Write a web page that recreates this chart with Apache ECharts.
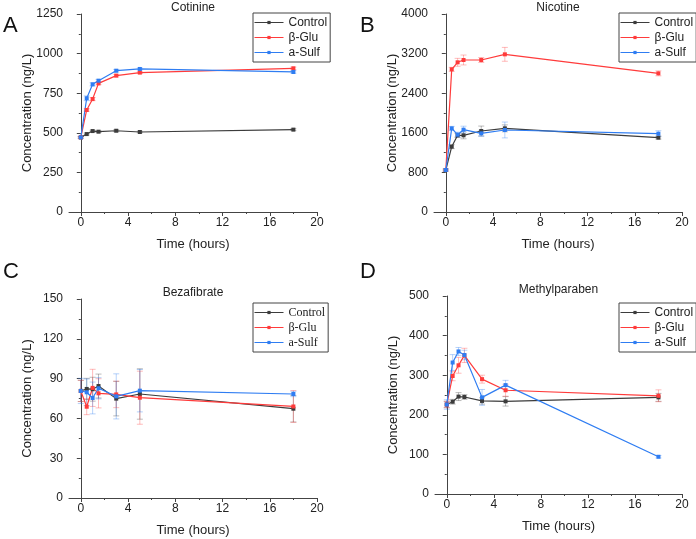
<!DOCTYPE html>
<html>
<head>
<meta charset="utf-8">
<script src="https://cdn.jsdelivr.net/npm/echarts@6/dist/echarts.min.js"></script>
<style>
  html, body { margin: 0; padding: 0; background: #fff; }
  #main { width: 696px; height: 539px; }
</style>
</head>
<body>
<div id="main"></div>
<script>
// time points (hours)
var times = [0, 0.5, 1, 1.5, 3, 5, 18];
var groups = ['Control', 'β-Glu', 'a-Sulf'];
var xTicks = [0, 4, 8, 12, 16, 20];
var xMinorTicks = [2, 6, 10, 14, 18];

// Cotinine
var cotControl = [471, 492, 511, 507, 513, 505, 520];
var cotGlu = [471, 644, 713, 812, 861, 880, 907];
var cotSulf = [471, 718, 806, 829, 892, 903, 884];
var cotControlErr = [5, 6, 5, 5, 6, 5, 6];
var cotGluErr = [5, 8, 10, 8, 8, 6, 8];
var cotSulfErr = [5, 15, 10, 8, 8, 6, 8];

// Nicotine
var nicControl = [848, 1320, 1549, 1549, 1636, 1690, 1502];
var nicGlu = [848, 2882, 3024, 3071, 3071, 3185, 2801];
var nicSulf = [848, 1690, 1562, 1663, 1589, 1657, 1582];
var nicControlErr = [20, 40, 40, 70, 100, 70, 30];
var nicGluErr = [20, 40, 80, 100, 50, 140, 50];
var nicSulfErr = [20, 40, 50, 70, 60, 160, 60];

// Bezafibrate
var bezControl = [80.7, 82.2, 82.0, 84.4, 74.9, 78.4, 67.3];
var bezGlu = [80.7, 68.8, 83.0, 78.9, 78.1, 75.6, 69.0];
var bezSulf = [80.7, 79.7, 75.4, 82.7, 76.6, 80.9, 78.4];
var bezControlErr = [8, 8, 9, 9, 13, 19, 10];
var bezGluErr = [8, 6, 14, 11, 10, 20, 12];
var bezSulfErr = [9.5, 10, 12, 8, 17, 16, 2];

// Methylparaben
var metControl = [226, 233, 246, 245, 235, 234, 244];
var metGlu = [226, 298, 325, 350, 290, 262, 248];
var metSulf = [226, 332, 360, 351, 244, 275, 94];
var metControlErr = [8, 6, 10, 6, 8, 12, 10];
var metGluErr = [8, 12, 20, 18, 10, 15, 15];
var metSulfErr = [12, 20, 10, 12, 20, 12, 3];

var colors = ['#3c3c3c', '#ff3b3b', '#2f7df2'];
var errColors = ['rgba(60,60,60,0.35)', 'rgba(255,59,59,0.35)', 'rgba(47,125,242,0.35)'];

var panels = [
    {title: 'Cotinine', letter: 'A', max: 1250, interval: 250,
     values: [cotControl, cotGlu, cotSulf], errs: [cotControlErr, cotGluErr, cotSulfErr],
     grid: {left: 69, top: 14, width: 248, height: 198}, legendFont: 'Liberation Sans'},
    {title: 'Nicotine', letter: 'B', max: 4000, interval: 800,
     values: [nicControl, nicGlu, nicSulf], errs: [nicControlErr, nicGluErr, nicSulfErr],
     grid: {left: 434, top: 14, width: 248, height: 198}, legendFont: 'Liberation Sans'},
    {title: 'Bezafibrate', letter: 'C', max: 150, interval: 30,
     values: [bezControl, bezGlu, bezSulf], errs: [bezControlErr, bezGluErr, bezSulfErr],
     grid: {left: 69, top: 299, width: 248, height: 199}, legendFont: 'Liberation Serif'},
    {title: 'Methylparaben', letter: 'D', max: 500, interval: 100,
     values: [metControl, metGlu, metSulf], errs: [metControlErr, metGluErr, metSulfErr],
     grid: {left: 435, top: 296, width: 247, height: 198}, legendFont: 'Liberation Sans'}
];

var chart = echarts.init(document.getElementById('main'));

var option = {
    backgroundColor: '#fff',
    animation: false,
    textStyle: {fontFamily: 'Liberation Sans', color: '#222'},
    title: [],
    legend: [],
    grid: [],
    xAxis: [],
    yAxis: [],
    series: []
};

/**
 * 误差棒
 */
function errorBarItem(params, api) {
    var x = api.value(0);
    var lo = api.coord([x, api.value(1)]);
    var hi = api.coord([x, api.value(2)]);
    var w = 3;
    var st = {stroke: api.visual('color'), lineWidth: 1};
    return {
        type: 'group',
        children: [
            {type: 'line', shape: {x1: lo[0], y1: lo[1], x2: hi[0], y2: hi[1]}, style: st},
            {type: 'line', shape: {x1: lo[0] - w, y1: lo[1], x2: lo[0] + w, y2: lo[1]}, style: st},
            {type: 'line', shape: {x1: hi[0] - w, y1: hi[1], x2: hi[0] + w, y2: hi[1]}, style: st}
        ]
    };
}

panels.forEach(function (p, i) {
    var g = p.grid;
    option.grid.push({left: g.left, top: g.top, width: g.width, height: g.height});

    // main x axis
    option.xAxis.push({
        gridIndex: i, type: 'value', min: -1, max: 20,
        name: 'Time (hours)', nameLocation: 'middle', nameGap: 26, nameMoveOverlap: false,
        nameTextStyle: {fontSize: 13, color: '#222'},
        axisLine: {show: true, lineStyle: {color: '#444', width: 1}},
        axisTick: {show: true, length: 4, customValues: xTicks, lineStyle: {color: '#444'}},
        axisLabel: {customValues: xTicks, fontSize: 12, color: '#222', margin: 5},
        splitLine: {show: false}
    });
    // minor ticks on x
    option.xAxis.push({
        gridIndex: i, type: 'value', min: -1, max: 20, position: 'bottom',
        axisLine: {show: false},
        axisTick: {show: true, length: 2, customValues: xMinorTicks, lineStyle: {color: '#444'}},
        axisLabel: {show: false},
        splitLine: {show: false}
    });
    option.yAxis.push({
        gridIndex: i, type: 'value', min: 0, max: p.max, interval: p.interval,
        name: 'Concentration (ng/L)', nameLocation: 'middle', nameGap: 35, nameMoveOverlap: false,
        nameTextStyle: {fontSize: 13, color: '#222'},
        axisLine: {show: true, lineStyle: {color: '#444', width: 1}},
        axisTick: {show: true, length: 4, lineStyle: {color: '#444'}},
        minorTick: {show: true, splitNumber: 2, length: 2, lineStyle: {color: '#444'}},
        axisLabel: {fontSize: 12, color: '#222', margin: 6, formatter: function (v) { return String(v); }},
        splitLine: {show: false}
    });

    var cx = g.left + g.width / 2;
    option.title.push({
        text: p.title, left: cx, top: g.top - 12, textAlign: 'center', padding: 0,
        textStyle: {fontSize: 12, fontWeight: 'normal', color: '#222', fontFamily: 'Liberation Sans'}
    });
    option.title.push({
        text: p.letter, left: (i % 2 == 0) ? 3 : 360, top: (i < 2) ? 15 : 261, padding: 0,
        textStyle: {fontSize: 22, fontWeight: 'normal', color: '#111', fontFamily: 'Liberation Sans'}
    });

    groups.forEach(function (name, k) {
        option.series.push({
            name: name, type: 'line',
            xAxisIndex: 2 * i, yAxisIndex: i,
            data: times.map(function (t, j) { return [t, p.values[k][j]]; }),
            symbol: 'rect', symbolSize: 4,
            lineStyle: {color: colors[k], width: 1.2},
            itemStyle: {color: colors[k]},
            z: 3
        });
        option.series.push({
            name: name + ' err', type: 'custom',
            xAxisIndex: 2 * i, yAxisIndex: i,
            renderItem: errorBarItem,
            itemStyle: {color: errColors[k]},
            data: times.map(function (t, j) {
                return [t, p.values[k][j] - p.errs[k][j], p.values[k][j] + p.errs[k][j]];
            }),
            z: 2
        });
    });

    var lx = (i % 2 == 0) ? 253 : 619;
    var ly = (i < 2) ? 13 : 303;
    option.legend.push({
        data: groups.slice(),
        left: lx, top: ly, orient: 'vertical',
        borderColor: '#444', borderWidth: 1, borderRadius: 0,
        padding: [3, 3, 3, 1],
        itemWidth: 29, itemHeight: 4, itemGap: 2,
        lineStyle: {width: 1},
        textStyle: {fontSize: 12, lineHeight: 13, color: '#222', fontFamily: p.legendFont},
        selectedMode: false
    });
});

chart.setOption(option);

window.onresize = function () {
    chart.resize();
}
</script>
</body>
</html>
